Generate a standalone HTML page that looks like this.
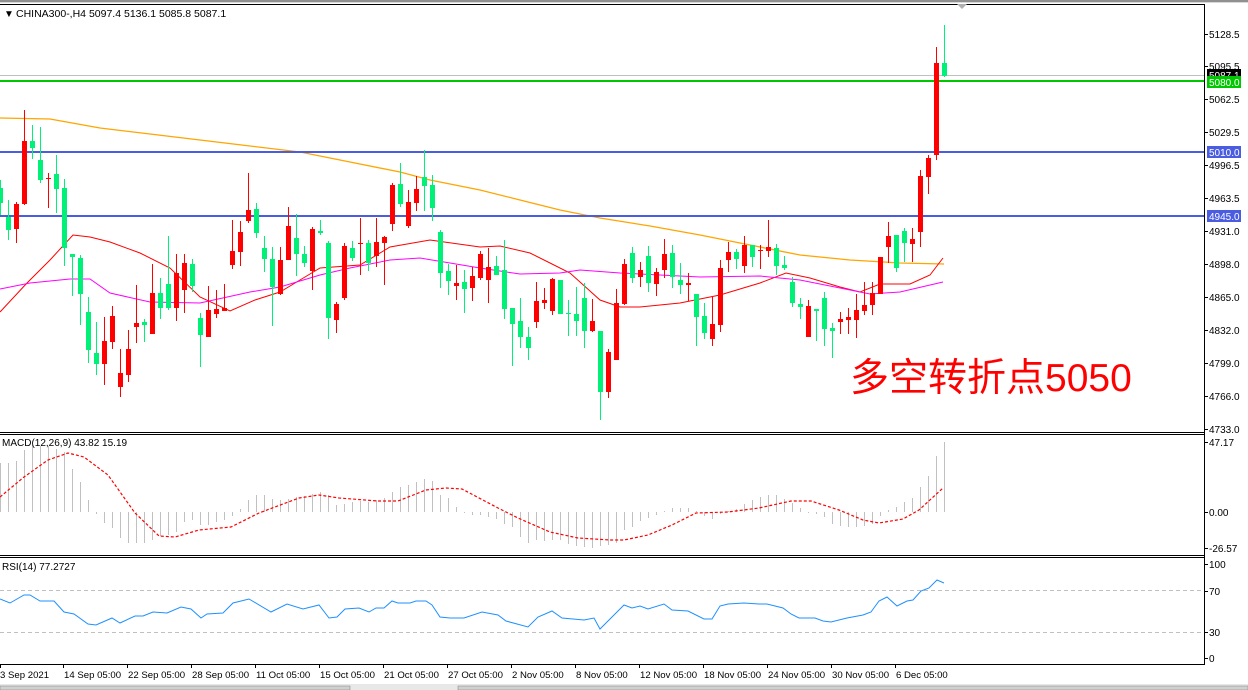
<!DOCTYPE html>
<html><head><meta charset="utf-8">
<style>
html,body{margin:0;padding:0;background:#fff;width:1248px;height:690px;overflow:hidden}
svg{display:block}
text{font-family:"Liberation Sans","Noto Sans CJK SC",sans-serif}
</style></head>
<body>
<svg id="s" width="1248" height="690" xmlns="http://www.w3.org/2000/svg">
<rect x="0" y="0" width="1248" height="690" fill="#fff"/>
<rect x="0" y="0" width="1248" height="2" fill="#909090"/>
<rect x="0" y="2" width="1248" height="1" fill="#d8d8d8"/>
<g id="main"></g>
<g stroke="#000" stroke-width="1" fill="none" shape-rendering="crispEdges">
<line x1="0" y1="4.5" x2="1205" y2="4.5"/>
<line x1="1204.5" y1="4" x2="1204.5" y2="665"/>
<line x1="0" y1="432.5" x2="1205" y2="432.5"/>
<line x1="0" y1="434.5" x2="1205" y2="434.5"/>
<line x1="0" y1="555.5" x2="1205" y2="555.5"/>
<line x1="0" y1="557.5" x2="1205" y2="557.5"/>
<line x1="0" y1="664.5" x2="1205" y2="664.5"/>
</g>
<polygon points="957,4 967,4 962,9" fill="#b0b0b0"/>
<text x="4" y="17" font-size="10" fill="#000">▼</text>
<text x="16" y="17" font-size="10.5" fill="#000">CHINA300-,H4  5097.4 5136.1 5085.8 5087.1</text>
<text x="2" y="446" font-size="10" fill="#000">MACD(12,26,9) 43.82 15.19</text>
<text x="2" y="570" font-size="10" fill="#000">RSI(14) 77.2727</text>
<text x="850" y="391" font-size="39" fill="#ff0000" font-family="'Liberation Sans','Noto Sans CJK SC',sans-serif">多空转折点5050</text>
<g id="axis" font-size="10" fill="#000"></g>
<rect x="0" y="684" width="1248" height="6" fill="#e8e8e8"/>
<rect x="0" y="686" width="350" height="4" fill="#d0d0d0" stroke="#808080" stroke-width="0.5"/>
<rect x="458" y="686" width="790" height="4" fill="#d0d0d0" stroke="#808080" stroke-width="0.5"/>
</svg>
<script>
var NS="http://www.w3.org/2000/svg";
var M=document.getElementById("main"),A=document.getElementById("axis");
function el(p,t,a,txt){var e=document.createElementNS(NS,t);for(var k in a)e.setAttribute(k,a[k]);if(txt!=null)e.textContent=txt;p.appendChild(e);return e;}
el(M,"line",{x1:0,y1:590.5,x2:1204,y2:590.5,stroke:"#c0c0c0","stroke-dasharray":"4,3"});
el(M,"line",{x1:0,y1:632.5,x2:1204,y2:632.5,stroke:"#c0c0c0","stroke-dasharray":"4,3"});
el(M,"line",{x1:0,y1:75.5,x2:1204,y2:75.5,stroke:"#c0c0c0"});
function pl(pts,col,w,dash){el(M,"polyline",{points:pts,fill:"none",stroke:col,"stroke-width":w||1,"stroke-dasharray":dash||"none"});}
pl("0,118 50,119 100,128 150,134 200,140 250,146 300,152 350,162 400,172 430,180 480,190 520,200 560,210 600,218 650,226 700,235 750,245 800,255 850,260 900,263 944,264","#ffa500",1.3);
pl("0,312 27,283 50,260 73,235 90,237 110,242 140,253 170,268 200,297 230,311 255,300 280,292 300,280 320,268 360,265 390,247 430,240 480,247 500,246 530,253 550,263 570,273 600,300 620,307 640,307 680,303 720,295 760,283 786,273 810,278 840,287 860,292 880,284 910,284 930,275 943,258","#ff0000",1);
pl("0,289 30,283 70,279 90,279 110,293 150,302 200,303 250,292 280,287 320,275 350,268 390,260 420,258 480,268 520,274 560,273 580,270 620,273 700,277 760,276 800,280 840,288 870,294 900,292 943,282","#ff00ff",1);
el(M,"rect",{x:0,y:80,width:1204,height:2,fill:"#00c800"});
el(M,"rect",{x:0,y:151,width:1204,height:2,fill:"#4a5ce0"});
el(M,"rect",{x:0,y:215,width:1204,height:2,fill:"#4a5ce0"});
var C=[
[180,188,203,215,'g'],[200,217,230,240,'g'],[202,204,229,243,'r'],[110,141,204,205,'r'],[125,141,148,159,'g'],
[127,160,180,183,'g'],[173,178,179,208,'r'],[155,174,189,213,'g'],[179,188,248,266,'g'],[254,254,257,296,'g'],
[255,258,294,325,'g'],[297,312,350,363,'g'],[322,353,364,375,'g'],[317,341,364,385,'r'],[306,316,342,349,'r'],
[349,373,387,397,'r'],[330,349,375,382,'r'],[285,323,327,343,'r'],[319,322,325,342,'g'],[264,293,334,334,'r'],
[278,293,308,319,'g'],[236,284,308,310,'g'],[254,273,308,321,'r'],[254,263,290,313,'r'],[259,264,286,292,'g'],
[313,318,335,367,'g'],[286,310,337,337,'r'],[290,309,314,318,'r'],[284,308,311,311,'r'],[220,251,265,269,'r'],
[221,232,252,266,'r'],[173,210,221,223,'r'],[203,209,233,238,'g'],[236,248,259,272,'g'],[247,259,287,326,'g'],
[247,260,294,295,'r'],[207,226,260,260,'r'],[214,238,254,276,'g'],[246,254,263,267,'g'],[227,229,271,290,'r'],
[220,231,233,235,'g'],[241,243,318,339,'g'],[302,304,320,333,'r'],[243,246,298,300,'r'],[241,248,258,261,'g'],
[218,243,244,275,'r'],[240,243,263,271,'g'],[218,242,256,267,'r'],[236,237,243,285,'r'],[183,185,224,231,'r'],
[163,184,204,207,'g'],[190,202,226,228,'r'],[176,189,203,211,'r'],[150,177,186,211,'g'],[175,185,208,221,'g'],
[230,232,273,288,'g'],[264,271,281,295,'g'],[265,283,286,300,'r'],[270,282,289,313,'g'],[267,276,288,301,'r'],
[251,254,278,280,'r'],[248,267,280,303,'r'],[256,266,275,275,'g'],[240,270,309,319,'g'],[308,308,324,366,'g'],
[298,321,337,348,'g'],[327,337,348,360,'g'],[282,301,322,328,'r'],[288,300,303,309,'r'],[278,279,311,315,'r'],
[280,280,314,314,'g'],[300,313,314,336,'g'],[287,314,321,336,'g'],[283,298,331,348,'g'],[299,321,331,332,'r'],
[331,331,392,420,'g'],[349,352,392,398,'r'],[289,303,360,360,'r'],[259,264,304,305,'r'],[247,253,278,283,'g'],
[262,270,277,287,'r'],[246,256,283,292,'g'],[268,272,284,296,'r'],[239,254,270,278,'r'],[245,253,277,288,'g'],
[263,280,285,294,'g'],[273,283,285,301,'r'],[294,294,317,346,'g'],[303,316,333,339,'g'],[297,324,339,346,'r'],
[260,268,325,332,'r'],[242,252,260,272,'r'],[249,252,259,269,'g'],[236,245,266,273,'r'],[245,245,257,267,'g'],
[245,250,251,269,'r'],[220,247,251,257,'r'],[244,248,266,275,'g'],[256,265,268,270,'g'],[277,282,303,307,'g'],
[298,304,307,319,'g'],[300,306,337,337,'r'],[309,309,311,341,'g'],[292,298,329,346,'g'],[323,328,331,358,'g'],
[312,319,322,334,'r'],[308,317,320,334,'r'],[294,310,320,338,'r'],[282,305,311,315,'r'],[282,293,305,315,'r'],
[257,257,294,294,'r'],[222,236,247,263,'r'],[235,235,268,272,'g'],[228,231,243,262,'g'],[228,239,244,262,'r'],
[170,176,232,247,'r'],[155,158,177,194,'r'],[47,63,155,160,'r'],[25,63,76,77,'g']];
for(var k=0;k<C.length;k++){var c=C[k],x=8*k,col=c[4]=='r'?'#ff0000':'#00f078';
 el(M,"rect",{x:x,y:c[0],width:1,height:Math.max(1,c[3]-c[0]),fill:col});
 el(M,"rect",{x:x-2,y:c[1],width:5,height:Math.max(1,c[2]-c[1]),fill:col});}
var H=[463,463,461,450,445,446,446,449,452,469,482,500,514,523,528,538,543,543,543,540,536,535,532,522,520,525,525,522,520,516,509,500,495,495,499,500,499,497,496,494,492,495,505,504,502,501,502,500,498,492,487,485,482,479,481,495,498,507,513,515,515,517,519,524,527,537,543,540,541,540,540,544,546,547,548,546,545,543,530,527,521,518,515,511,508,508,508,511,516,519,514,511,509,504,500,497,495,495,499,503,508,512,514,517,524,526,527,527,526,524,516,510,507,502,498,487,476,456,442];
for(var k=0;k<H.length;k++){var t=H[k],y1=Math.min(t,512),y2=Math.max(t,512);
 el(M,"rect",{x:8*k,y:y1,width:1,height:Math.max(1,y2-y1),fill:"#c0c0c0"});}
pl("0,497 24,477 48,460 68,453 84,457 108,475 135,513 159,536 175,537 199,530 231,527 259,513 299,498 319,495 339,498 378,501 398,501 426,490 446,488 462,489 498,508 518,518 550,532 578,538 610,540 624,540 648,535 672,525 696,513 728,512 759,508 791,501 811,501 839,510 863,520 879,523 903,519 919,510 943,488","#ff0000",1.2,"3,2");
pl("0,599 10,603 24,595 30,595 40,601 54,601 64,612 74,614 88,624 96,625 112,618 120,623 135,616 143,616 153,612 167,613 181,607 191,609 201,618 207,614 223,613 233,603 249,599 271,612 287,604 303,609 319,605 329,618 337,617 345,609 359,608 369,612 376,608 384,608 392,601 398,603 410,603 416,601 426,601 432,605 440,617 450,618 464,618 482,612 498,615 506,621 528,627 538,617 552,611 562,618 584,620 594,618 600,629 614,615 624,605 632,608 640,606 648,609 664,604 672,610 688,611 704,619 712,619 720,606 728,604 744,603 759,604 767,604 783,608 791,614 799,618 815,618 823,621 831,622 847,618 863,615 871,612 879,601 887,597 897,606 907,601 913,600 921,591 929,588 937,580 944,583","#1e90ff",1);
var P=[["5128.5",34],["5095.5",66],["5062.5",99],["5029.5",132],["4996.5",165],["4963.5",198],["4931.0",231],["4898.0",264],["4865.0",297],["4832.0",330],["4799.0",363],["4766.0",396],["4733.0",429],["47.17",442],["0.00",512],["-26.57",548],["100",564],["70",591],["30",632],["0",658]];
P.forEach(function(p){el(A,"rect",{x:1205,y:p[1],width:3,height:1,fill:"#000"});el(A,"text",{x:1209,y:p[1]+4},p[0]);});
function tag(y,txt,bg,fg){el(A,"rect",{x:1207,y:y-6,width:34,height:12,fill:bg});el(A,"text",{x:1209,y:y+4,fill:fg},txt);}
tag(75,"5087.1","#000","#fff");tag(82,"5080.0","#00c800","#fff");tag(152,"5010.0","#4a5ce0","#fff");tag(216,"4945.0","#4a5ce0","#fff");
var T=["3 Sep 2021","14 Sep 05:00","22 Sep 05:00","28 Sep 05:00","11 Oct 05:00","15 Oct 05:00","21 Oct 05:00","27 Oct 05:00","2 Nov 05:00","8 Nov 05:00","12 Nov 05:00","18 Nov 05:00","24 Nov 05:00","30 Nov 05:00","6 Dec 05:00"];
T.forEach(function(s,i){var x=i==0?-1:63+64*(i-1);el(A,"rect",{x:i==0?0:x,y:665,width:1,height:3,fill:"#000"});el(A,"text",{x:x+1,y:678,textLength:null},s);});
Array.prototype.forEach.call(A.querySelectorAll("text"),function(t){if(t.getAttribute("y")=="678"){t.removeAttribute("textLength");t.setAttribute("font-size","9.6");}});
</script>
</body></html>
